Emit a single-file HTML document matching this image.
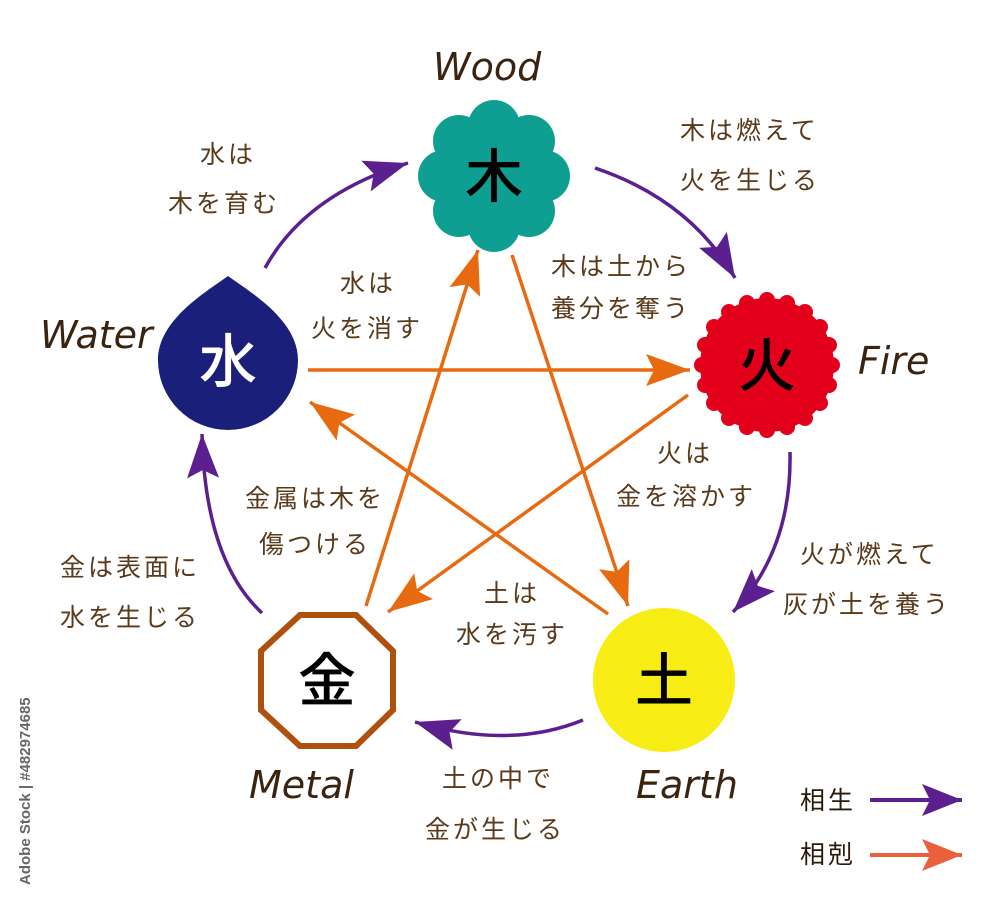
<!DOCTYPE html>
<html><head><meta charset="utf-8"><style>
html,body{margin:0;padding:0;background:#fff;}
svg{display:block;}
.t{font-family:"Liberation Sans","Noto Sans CJK JP",sans-serif;font-size:25px;fill:#5a3a1a;letter-spacing:3px;}
.e{font-family:"DejaVu Sans","Liberation Sans",sans-serif;font-style:italic;font-weight:300;font-size:38px;fill:#3a2410;}
.k{font-family:"Noto Sans CJK JP",sans-serif;font-size:58px;text-anchor:middle;font-weight:500;}
</style></head><body>
<svg width="1000" height="900" viewBox="0 0 1000 900" xmlns="http://www.w3.org/2000/svg">
<defs>
<marker id="ap" markerUnits="userSpaceOnUse" markerWidth="48" markerHeight="34" refX="44" refY="16" orient="auto"><path d="M0,0 L44,16 L0,32 L8,16 Z" fill="#5b1f8f"/></marker>
<marker id="ao" markerUnits="userSpaceOnUse" markerWidth="48" markerHeight="34" refX="44" refY="16" orient="auto"><path d="M0,0 L44,16 L0,32 L8,16 Z" fill="#e86a10"/></marker>
<marker id="ar" markerUnits="userSpaceOnUse" markerWidth="44" markerHeight="34" refX="40" refY="16" orient="auto"><path d="M0,0 L40,16 L0,32 L8,16 Z" fill="#e8603c"/></marker>
<marker id="ap2" markerUnits="userSpaceOnUse" markerWidth="44" markerHeight="34" refX="40" refY="16" orient="auto"><path d="M0,0 L40,16 L0,32 L8,16 Z" fill="#5b1f8f"/></marker>
</defs>

<g stroke="#e86a10" stroke-width="3.5" fill="none">
<line x1="308" y1="370" x2="690" y2="370" marker-end="url(#ao)"/>
<line x1="366" y1="606" x2="478" y2="250" marker-end="url(#ao)"/>
<line x1="512" y1="255" x2="628" y2="606" marker-end="url(#ao)"/>
<line x1="608" y1="614" x2="310" y2="402" marker-end="url(#ao)"/>
<line x1="688" y1="395" x2="388" y2="612" marker-end="url(#ao)"/>
</g>

<g stroke="#5b1f8f" stroke-width="3.5" fill="none">
<path d="M265,268 Q305,195 408,163" marker-end="url(#ap)"/>
<path d="M595,168 Q690,200 735,278" marker-end="url(#ap)"/>
<path d="M790,452 Q792,550 733,612" marker-end="url(#ap)"/>
<path d="M583,720 Q510,750 415,722" marker-end="url(#ap)"/>
<path d="M262,613 Q205,560 202,434" marker-end="url(#ap)"/>
</g>

<g fill="#0e9e92">
<circle cx="494" cy="176" r="58"/>
<circle cx="494" cy="126" r="26"/><circle cx="529" cy="141" r="26"/><circle cx="544" cy="176" r="26"/><circle cx="529" cy="211" r="26"/>
<circle cx="494" cy="226" r="26"/><circle cx="459" cy="211" r="26"/><circle cx="444" cy="176" r="26"/><circle cx="459" cy="141" r="26"/>
</g>
<text x="494" y="197" class="k" fill="#000">木</text>

<g fill="#e3001b">
<circle cx="767" cy="365" r="67"/>
<circle cx="832" cy="365" r="8"/><circle cx="829" cy="385" r="8"/><circle cx="820" cy="403" r="8"/><circle cx="805" cy="418" r="8"/><circle cx="787" cy="427" r="8"/>
<circle cx="767" cy="430" r="8"/><circle cx="747" cy="427" r="8"/><circle cx="729" cy="418" r="8"/><circle cx="714" cy="403" r="8"/><circle cx="705" cy="385" r="8"/>
<circle cx="702" cy="365" r="8"/><circle cx="705" cy="345" r="8"/><circle cx="714" cy="327" r="8"/><circle cx="729" cy="312" r="8"/><circle cx="747" cy="303" r="8"/>
<circle cx="767" cy="300" r="8"/><circle cx="787" cy="303" r="8"/><circle cx="805" cy="312" r="8"/><circle cx="820" cy="327" r="8"/><circle cx="829" cy="345" r="8"/>
</g>
<text x="767" y="386" class="k" fill="#000">火</text>

<path d="M228,276 C250,292 298,320 298,360 A70,70 0 1 1 158,360 C158,320 206,292 228,276 Z" fill="#1a1f7a"/>
<text x="228" y="382" class="k" fill="#fff">水</text>

<polygon points="300,615 356,615 393,651 393,710 356,746 300,746 261,710 261,651" fill="#fff" stroke="#b0500e" stroke-width="6"/>
<text x="327" y="701" class="k" fill="#000">金</text>

<ellipse cx="664" cy="680" rx="71" ry="72" fill="#f7ec13"/>
<text x="664" y="701" class="k" fill="#000">土</text>

<text x="433" y="80" class="e">Wood</text>
<text x="40" y="348" class="e">Water</text>
<text x="858" y="374" class="e">Fire</text>
<text x="249" y="798" class="e">Metal</text>
<text x="636" y="798" class="e">Earth</text>

<text x="200" y="163" class="t">水は</text>
<text x="168" y="212" class="t">木を育む</text>
<text x="680" y="139" class="t">木は燃えて</text>
<text x="680" y="189" class="t">火を生じる</text>
<text x="551" y="275" class="t">木は土から</text>
<text x="551" y="317" class="t">養分を奪う</text>
<text x="340" y="292" class="t">水は</text>
<text x="311" y="337" class="t">火を消す</text>
<text x="657" y="462" class="t">火は</text>
<text x="616" y="505" class="t">金を溶かす</text>
<text x="245" y="507" class="t">金属は木を</text>
<text x="259" y="553" class="t">傷つける</text>
<text x="800" y="563" class="t">火が燃えて</text>
<text x="783" y="613" class="t">灰が土を養う</text>
<text x="60" y="576" class="t">金は表面に</text>
<text x="60" y="626" class="t">水を生じる</text>
<text x="484" y="602" class="t">土は</text>
<text x="456" y="643" class="t">水を汚す</text>
<text x="442" y="787" class="t">土の中で</text>
<text x="425" y="838" class="t">金が生じる</text>

<text x="800" y="809" class="t" style="fill:#2a1a0a">相生</text>
<line x1="870" y1="800" x2="962" y2="800" stroke="#5b1f8f" stroke-width="4" marker-end="url(#ap2)"/>
<text x="800" y="863" class="t" style="fill:#2a1a0a">相剋</text>
<line x1="870" y1="855" x2="962" y2="855" stroke="#e8603c" stroke-width="4" marker-end="url(#ar)"/>

<text transform="translate(30,885) rotate(-90)" font-family="Liberation Sans,sans-serif" font-size="15" font-weight="bold" fill="#666">Adobe Stock | #482974685</text>
</svg>
</body></html>
